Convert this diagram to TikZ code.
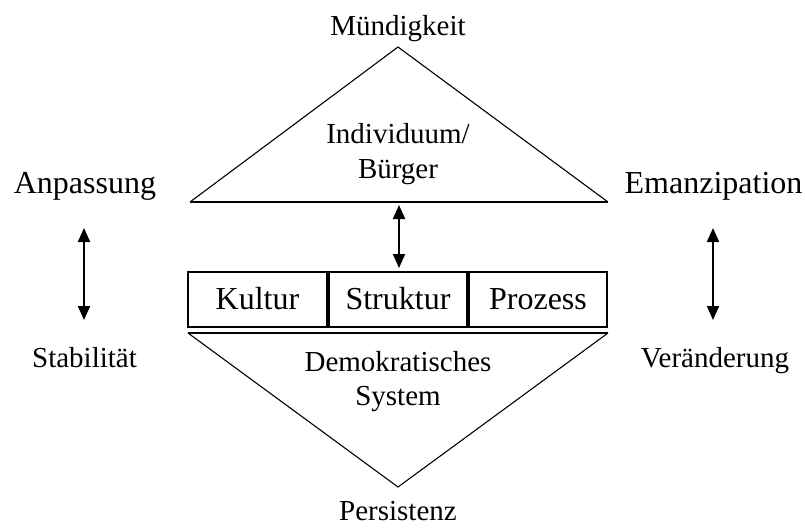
\documentclass[tikz,border=0pt]{standalone}
\usepackage{fontspec}
\setmainfont{Liberation Serif}
\usetikzlibrary{arrows.meta}
\begin{document}
\begin{tikzpicture}[x=1pt,y=-1pt,
  big/.style={font=\fontsize{32}{34}\selectfont, anchor=base, inner sep=0pt},
  small/.style={font=\fontsize{29}{34}\selectfont, anchor=base, inner sep=0pt, align=center},
  thin line/.style={line width=1.1pt, line join=miter},
  thick line/.style={line width=2pt},
  boxst/.style={draw, line width=1.6pt},
  dblarrow/.style={line width=2pt, {Triangle[length=14pt,width=12pt]}-{Triangle[length=14pt,width=12pt]}}]
\useasboundingbox (0,0) rectangle (805,531);
% top triangle
\coordinate (tA) at (398,47);
\coordinate (tL) at (190,202);
\coordinate (tR) at (608,202);
\draw[thin line] (tL) -- (tA) -- (tR);
\draw[thick line] (tL) -- (tR);
% bottom triangle
\coordinate (bA) at (398,487);
\coordinate (bL) at (188,333);
\coordinate (bR) at (608,333);
\draw[thin line] (bL) -- (bA) -- (bR);
\draw[thick line] (bL) -- (bR);
% boxes
\draw[boxst] (188,272) rectangle (327,327);
\draw[boxst] (329,272) rectangle (467,327);
\draw[boxst] (469,272) rectangle (607,327);
\node[big] (kultur) at (257.5,309) {Kultur};
\node[big] (struktur) at (398,309) {Struktur};
\node[big] (prozess) at (538,309) {Prozess};
% texts
\node[small] (mund) at (398,35) {Mündigkeit};
\node[small] (ind) at (398,143) {Individuum/};
\node[small] (buer) at (398,178) {Bürger};
\node[big] (anp) at (85,193) {Anpassung};
\node[big] (ema) at (713.5,193) {Emanzipation};
\node[small] (stab) at (84.5,367) {Stabilität};
\node[small] (ver) at (715,367) {Veränderung};
\node[small] (demo) at (398,371) {Demokratisches};
\node[small] (sys) at (398,405) {System};
\node[small] (pers) at (398,520) {Persistenz};
% arrows
\coordinate (m1) at (399,205);
\coordinate (m2) at (399,268);
\draw[dblarrow] (m1) -- (m2);
\coordinate (l1) at (84,228);
\coordinate (l2) at (84,320);
\draw[dblarrow] (l1) -- (l2);
\coordinate (r1) at (713,228);
\coordinate (r2) at (713,320);
\draw[dblarrow] (r1) -- (r2);
\end{tikzpicture}
\end{document}
